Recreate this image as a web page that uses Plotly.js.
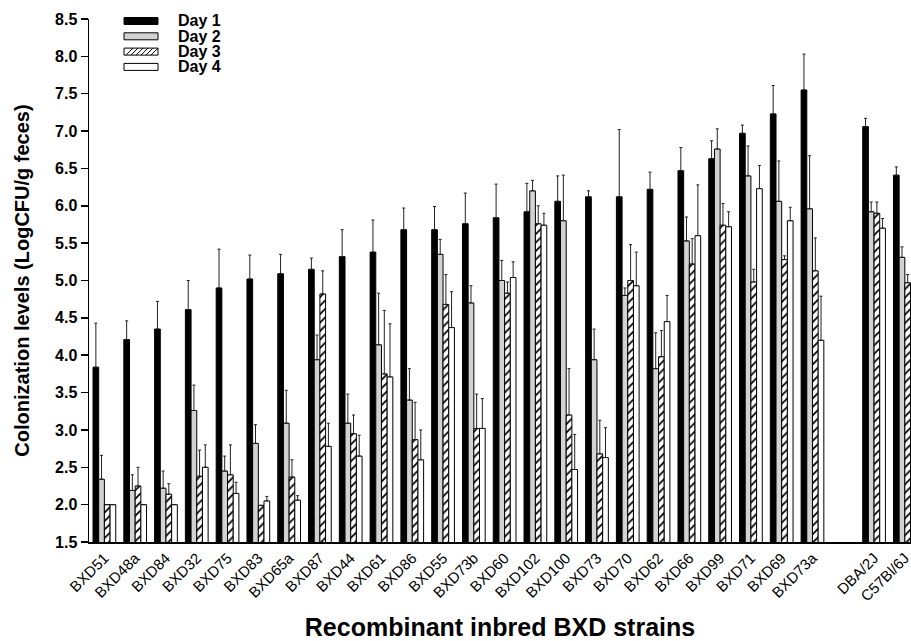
<!DOCTYPE html>
<html>
<head>
<meta charset="utf-8">
<script src="https://cdn.plot.ly/plotly-3.0.1.min.js"></script>
<style>html,body{margin:0;padding:0;background:#fff;}#chart{width:911px;height:641px;}</style>
</head>
<body>
<div id="chart"></div>
<script>
// Strains (blank spacer slot between BXD73a and the parental strains)
const strains = ['BXD51','BXD48a','BXD84','BXD32','BXD75','BXD83','BXD65a','BXD87','BXD44','BXD61',
  'BXD86','BXD55','BXD73b','BXD60','BXD102','BXD100','BXD73','BXD70','BXD62','BXD66',
  'BXD99','BXD71','BXD69','BXD73a',' ','DBA/2J','C57Bl/6J'];

const day1 = [3.84,4.21,4.35,4.61,4.90,5.02,5.09,5.15,5.32,5.38,5.68,5.68,5.76,5.84,5.92,6.06,6.12,6.12,6.22,6.47,6.63,6.97,7.23,7.55,null,7.06,6.41];
const day1Err = [0.59,0.25,0.37,0.39,0.52,0.32,0.26,0.15,0.36,0.43,0.29,0.31,0.41,0.45,0.38,0.34,0.08,0.90,0.23,0.31,0.24,0.11,0.38,0.48,null,0.11,0.11];

const day2 = [2.34,2.19,2.22,3.26,2.45,2.82,3.09,3.94,3.09,4.14,3.40,5.35,4.70,5.00,6.20,5.80,3.94,4.80,3.82,5.53,6.76,6.40,6.06,5.96,null,5.92,5.31];
const day2Err = [0.32,0.21,0.23,0.34,0.20,0.25,0.44,0.33,0.39,0.69,0.42,0.20,0.23,0.27,0.14,0.61,0.41,0.10,0.48,0.32,0.27,0.40,0.54,0.71,null,0.13,0.14];

const day3 = [2.00,2.25,2.14,2.38,2.40,1.99,2.37,4.82,2.95,3.75,2.87,4.68,3.02,4.83,5.76,3.20,2.68,5.00,3.98,5.22,5.74,4.98,5.28,5.13,null,5.90,4.97];
const day3Err = [0,0.25,0.14,0.35,0.40,0,0.23,0.31,0.25,0.85,0.50,0.40,0.46,0.15,0.24,0.62,0.45,0.48,0.35,0.34,0.29,0.17,0.05,0.44,null,0.15,0.11];

const day4 = [2.00,2.00,2.00,2.50,2.15,2.05,2.06,2.78,2.65,3.71,2.60,4.37,3.02,5.04,5.74,2.47,2.63,4.93,4.45,5.60,5.72,6.23,5.80,4.20,null,5.70,null];
const day4Err = [0,0,0,0.30,0.15,0.06,0.06,0.31,0.28,0.71,0.40,0.48,0.40,0.21,0.16,0.47,0.40,0.45,0.35,0.68,0.20,0.31,0.18,0.59,null,0.13,null];

const seriesNames = ['Day 1','Day 2','Day 3','Day 4'];

const FONT = 'Liberation Sans, Arial, sans-serif';
const W = 911, H = 641, ML = 89, MR = 0, MT = 19, MB = 99;
const PW = W - ML - MR, PH = H - MT - MB;

function errBar(arr) {
  return {type:'data', symmetric:false, array:arr, arrayminus:arr.map(()=>0),
          color:'#222', thickness:1, width:1.5, visible:true};
}
const outline = {color:'#000', width:1};

const traces = [
  {type:'bar', name:seriesNames[0], x:strains, y:day1, error_y:errBar(day1Err),
   marker:{color:'#000', line:outline}},
  {type:'bar', name:seriesNames[1], x:strains, y:day2, error_y:errBar(day2Err),
   marker:{color:'#d2d2d2', line:outline}},
  {type:'bar', name:seriesNames[2], x:strains, y:day3, error_y:errBar(day3Err),
   marker:{color:'#fff', line:outline, pattern:{shape:'/', fgcolor:'#000', bgcolor:'#fff', size:6, solidity:0.3}}},
  {type:'bar', name:seriesNames[3], x:strains, y:day4, error_y:errBar(day4Err),
   marker:{color:'#fff', line:outline}}
];

// Custom legend (pixel -> paper helpers)
const px = v => (v - ML) / PW;
const py = v => (H - MB - v) / PH;
const rows = [21, 36.3, 51.6, 66.9];
const sx0 = 124, sx1 = 158, sh = 3.5;
const fills = ['#000','#d2d2d2','#fff','#fff'];
const shapes = [];
const annotations = [];
rows.forEach((r, i) => {
  shapes.push({type:'rect', xref:'paper', yref:'paper', x0:px(sx0), x1:px(sx1), y0:py(r+sh), y1:py(r-sh),
    fillcolor:fills[i], line:{color:'#000', width:1}});
  if (i === 2) {
    let d = '';
    for (let x = sx0 + 2; x + 7 <= sx1; x += 5) {
      d += `M${px(x)},${py(r+sh)} L${px(x+7)},${py(r-sh)} `;
    }
    shapes.push({type:'path', xref:'paper', yref:'paper', path:d, line:{color:'#000', width:1}});
  }
  annotations.push({xref:'paper', yref:'paper', x:px(177), y:py(r), xanchor:'left', yanchor:'middle',
    text:'<b>'+seriesNames[i]+'</b>', showarrow:false, borderpad:0,
    font:{family:FONT, size:16, color:'#000'}});
});

const layout = {
  width:W, height:H,
  margin:{l:ML, r:MR, t:MT, b:MB, pad:0},
  paper_bgcolor:'#fff', plot_bgcolor:'#fff',
  font:{family:FONT, color:'#000'},
  showlegend:false,
  barmode:'group', bargap:0.262, bargroupgap:0,
  xaxis:{type:'category', categoryorder:'array', categoryarray:strains,
    range:[-0.5, 26.2], showline:true, linecolor:'#000', linewidth:1.5,
    ticks:'', tickangle:-45, showgrid:false, zeroline:false, automargin:false,
    tickfont:{family:FONT, size:15, color:'#000'},
    title:{text:'<b>Recombinant inbred BXD strains</b>', font:{family:FONT, size:25, color:'#000'}, standoff:16}},
  yaxis:{range:[1.5, 8.5], dtick:0.5, tick0:1.5, tickformat:'.1f',
    showline:true, linecolor:'#000', linewidth:1.5, ticks:'outside', ticklen:7, tickwidth:1.5, tickcolor:'#000',
    showgrid:false, zeroline:false, automargin:false,
    tickfont:{family:FONT, size:16, color:'#000', weight:'bold'},
    title:{text:'<b>Colonization levels (LogCFU/g feces)</b>', font:{family:FONT, size:20, color:'#000'}, standoff:20}},
  shapes:shapes,
  annotations:annotations
};

Plotly.newPlot('chart', traces, layout, {staticPlot:true, displayModeBar:false});
</script>
</body>
</html>
